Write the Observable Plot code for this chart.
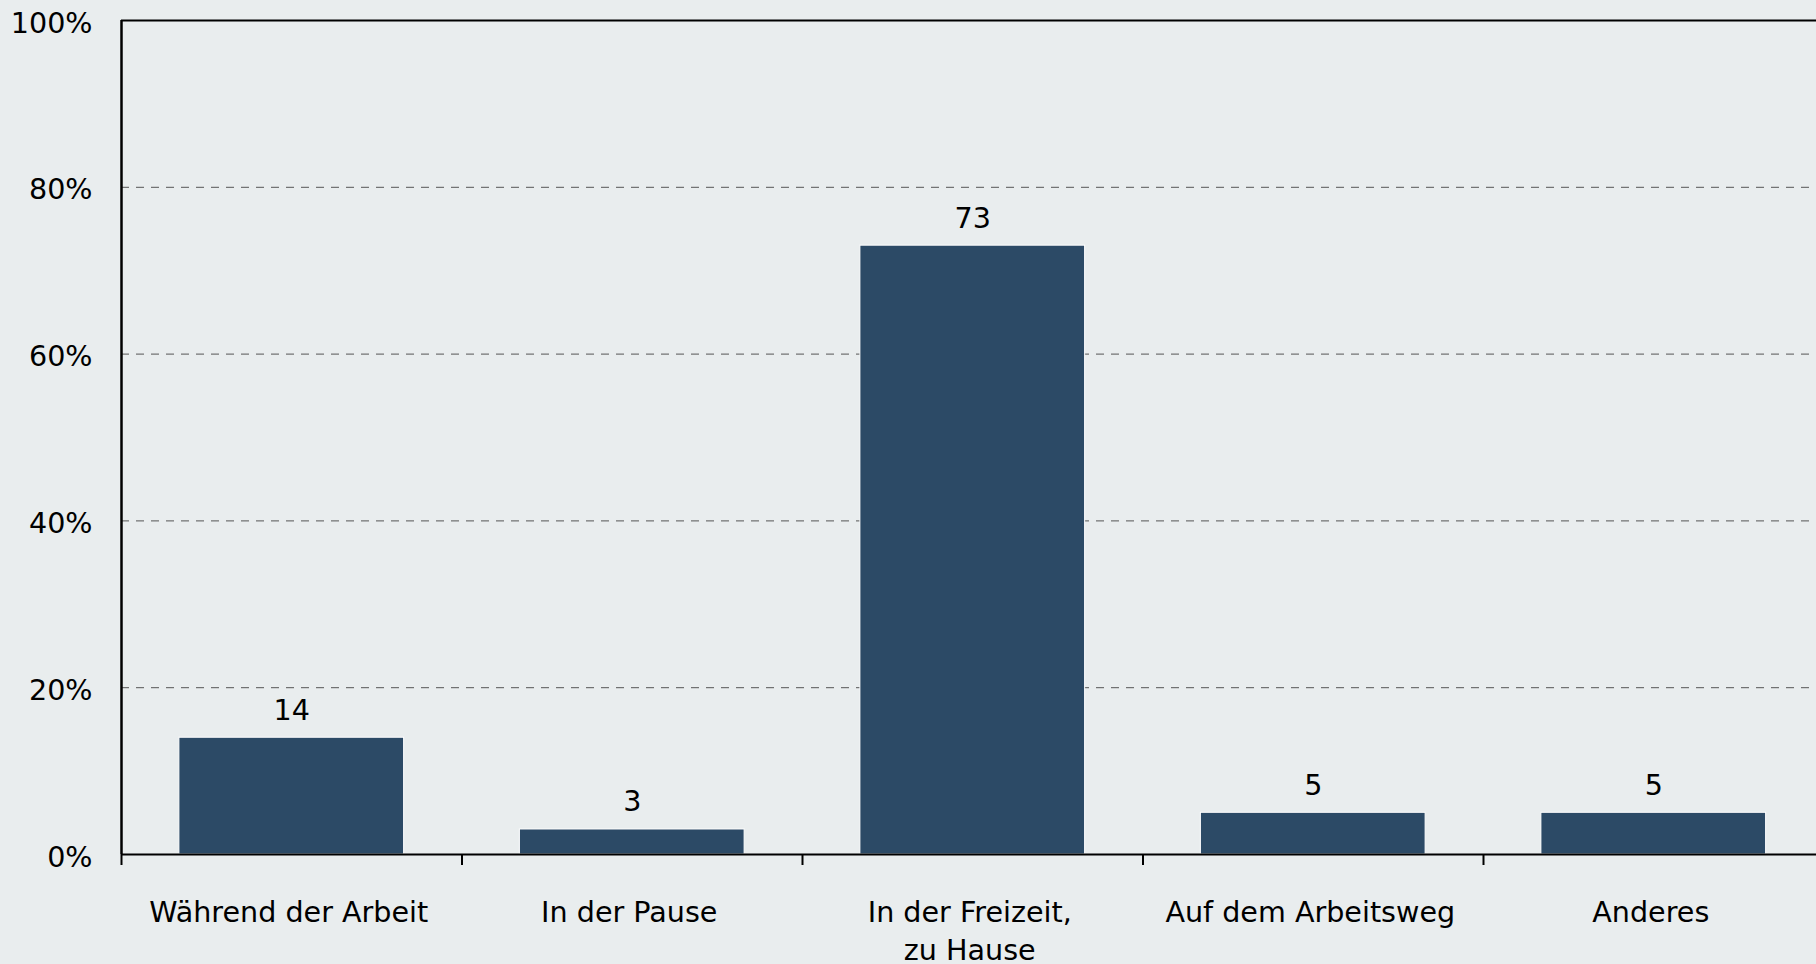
<!DOCTYPE html>
<html><head><meta charset="utf-8">
<script src="https://cdn.jsdelivr.net/npm/d3@7"></script>
<script src="https://cdn.jsdelivr.net/npm/@observablehq/plot@0.6"></script>
<style>
html,body{margin:0;padding:0;background:#e9edee;overflow:hidden}
#chart{width:1816px;height:964px;overflow:hidden;position:relative}
#chart svg{display:block}
</style></head><body><div id="chart"></div>
<script>
const categories = ["Während der Arbeit", "In der Pause", "In der Freizeit,\nzu Hause", "Auf dem Arbeitsweg", "Anderes"];
const values = [14, 3, 73, 5, 5];
const yTicks = [0, 20, 40, 60, 80, 100];
const gridTicks = [20, 40, 60, 80];
const data = categories.map((c, i) => ({cat: c, value: values[i]}));

const width = 1830, height = 964;
const marginLeft = 121, marginRight = 6.5, marginTop = 20, marginBottom = 110;
const step = (width - marginLeft - marginRight) / categories.length;
const font = "'DejaVu Sans', Verdana, sans-serif";
const fs = 28.6;

const chart = Plot.plot({
  width, height, marginLeft, marginRight, marginTop, marginBottom,
  style: {background: "#e9edee", fontFamily: font, fontSize: fs + "px", color: "#000", overflow: "visible"},
  x: {domain: categories, paddingInner: 0.34, paddingOuter: 0.17, round: false},
  y: {domain: [0, 100]},
  marks: [
    Plot.ruleY(gridTicks, {stroke: "#555", strokeWidth: 1, strokeDasharray: "8,7"}),
    Plot.barY(data, {x: "cat", y: "value", fill: "#2c4a66", stroke: "white", strokeWidth: 1}),
    Plot.text(data, {x: "cat", y: "value", text: d => String(d.value), lineAnchor: "bottom", dy: -18, fontSize: fs, fill: "#000"}),
    Plot.ruleY([0], {stroke: "#000", strokeWidth: 2}),
    Plot.ruleY([100], {stroke: "#000", strokeWidth: 2}),
    Plot.ruleX([categories[0]], {x: d => d, y1: 0, y2: 100, dx: -step / 2, stroke: "#000", strokeWidth: 2.5}),
    Plot.axisX({tickSize: 11, tickFormat: () => "", dx: -step / 2, stroke: "#000", strokeWidth: 2, label: null}),
    Plot.text(categories, {x: d => d, y: () => 0, text: d => d, lineAnchor: "top", lineHeight: 1.33, dy: 40, dx: -3, fontSize: fs, fill: "#000"}),
    Plot.axisY(yTicks, {tickSize: 0, tickPadding: 29, dy: 3, tickFormat: d => d + "%", fontSize: fs, label: null, fill: "#000"})
  ]
});
chart.style.width = width + "px";
chart.style.maxWidth = "none";
document.getElementById("chart").appendChild(chart);
</script></body></html>
